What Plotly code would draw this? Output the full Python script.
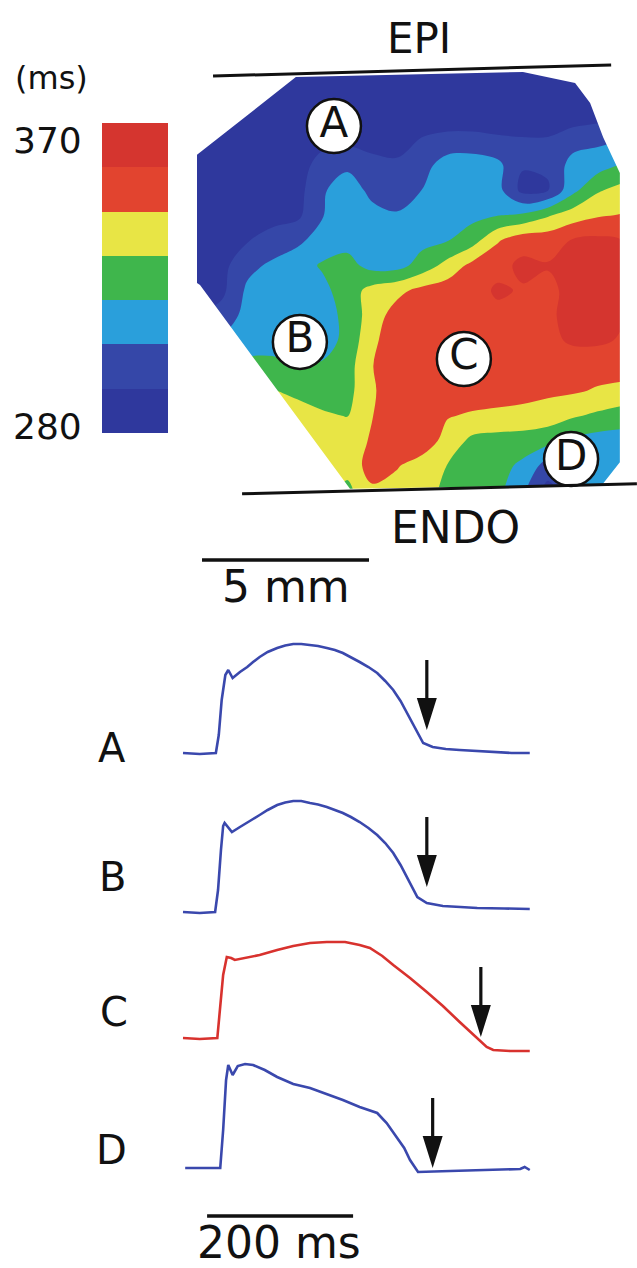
import plotly.graph_objects as go

W, H = 637, 1268
FONT = "DejaVu Sans"
INK = "#111111"

# ---------------- APD map data ----------------
apd_edges_ms = [280, 292.857, 305.714, 318.571, 331.429, 344.286, 357.143, 370]
apd_colors = ["#2f389d", "#3547a8", "#2a9fdb", "#3fb64c", "#e8e545", "#e2442f", "#d5352f"]
cbar_tick_ms = [370, 280]

grid_x_mm = [0.0, 0.75, 1.5, 2.25, 3.0, 3.75, 4.5, 5.25, 6.0, 6.75, 7.5, 8.25, 9.0, 9.75, 10.5, 11.25, 12.0, 12.75]
grid_y_mm = [0.0, 0.75, 1.5, 2.25, 3.0, 3.75, 4.5, 5.25, 6.0, 6.75, 7.5, 8.25, 9.0, 9.75, 10.5, 11.25, 12.0, 12.75]

apd_ms = [
    [285, 285, 285, 285, 285, 285, 285, 285, 285, 285, 285, 285, 285, 285, 285, 285, 285, 285],
    [285, 285, 285, 285, 285, 285, 285, 285, 285, 285, 285, 285, 285, 285, 285, 285, 285, 285],
    [285, 285, 285, 285, 285, 285, 285, 285, 285, 285, 285, 285, 285, 285, 285, 286, 288, 292],
    [285, 285, 285, 285, 286, 289, 290, 288, 288, 294, 297, 297, 295, 294, 294, 300, 303, 306],
    [285, 285, 285, 286, 287, 298, 303, 297, 295, 301, 312, 313, 309, 294, 294, 311, 313, 320],
    [285, 285, 285, 286, 288, 304, 313, 302, 299, 306, 314, 314, 310, 289, 292, 315, 330, 336],
    [285, 285, 286, 288, 290, 305, 313, 310, 307, 311, 314, 315, 318, 321, 330, 338, 343, 345],
    [285, 287, 292, 298, 303, 311, 314, 315, 316, 315, 318, 326, 343, 352, 352, 358, 360, 357],
    [286, 289, 302, 308, 313, 320, 323, 314, 314, 324, 336, 348, 353, 360, 358, 362, 362, 357],
    [287, 290, 308, 313, 314, 315, 325, 336, 341, 348, 351, 352, 359, 356, 354, 361, 362, 358],
    [292, 298, 310, 313, 313, 313, 322, 338, 350, 351, 351, 352, 354, 352, 355, 361, 362, 358],
    [305, 308, 311, 313, 313, 313, 322, 342, 351, 351, 351, 351, 351, 352, 354, 359, 359, 356],
    [320, 321, 323, 322, 319, 320, 326, 344, 351, 351, 350, 350, 350, 350, 350, 350, 350, 350],
    [334, 334, 333, 332, 329, 326, 327, 343, 351, 351, 350, 350, 349, 348, 347, 346, 343, 341],
    [336, 336, 336, 336, 336, 333, 331, 344, 351, 350, 345, 343, 342, 341, 338, 333, 329, 325],
    [337, 337, 337, 337, 337, 337, 337, 346, 351, 351, 340, 328, 326, 325, 323, 316, 313, 313],
    [337, 337, 337, 337, 337, 337, 336, 350, 345, 339, 331, 325, 323, 316, 300, 310, 313, 313],
    [336, 336, 336, 336, 336, 336, 328, 342, 340, 337, 328, 324, 322, 308, 288, 300, 310, 312],
]

# recorded region outline (mm)
outline_x_mm = [0.0, 2.96, 9.76, 11.32, 11.77, 12.16, 12.66, 12.66, 12.13, 4.58, 0.09, 0.0]
outline_y_mm = [2.69, 0.36, 0.21, 0.54, 1.14, 2.16, 3.23, 11.89, 12.57, 12.69, 6.59, 6.53]

site_names = ["A", "B", "C", "D"]
site_x_mm = [4.10, 3.08, 7.99, 11.20]
site_y_mm = [1.83, 8.29, 8.80, 11.80]

epi_x_mm = [0.48, 12.40]
epi_y_mm = [0.33, 0.0]
endo_x_mm = [1.35, 13.17]
endo_y_mm = [12.84, 12.54]
scale_mm = 5

# ---------------- action potentials ----------------
tA_ms = [0, 23, 45, 49, 53, 58, 62, 68, 78, 88, 96, 105, 116, 129, 140, 151, 162, 174, 185, 197, 208, 219, 230, 242, 254, 266, 277, 288, 298, 307, 314, 321, 329, 342, 360, 379, 400, 425, 450, 475]
vA = [0, -1, 0, 18, 53, 78, 83, 75, 81, 86, 91, 96, 101, 105, 107.5, 109, 109, 108, 107, 105, 103, 100, 96, 91, 86, 80, 72, 63, 52, 40, 30, 20, 10, 6, 4, 3, 2, 1, 0, 0]

tB_ms = [0, 23, 44, 48, 52, 55, 57, 67, 78, 88, 96, 105, 116, 129, 140, 151, 162, 174, 185, 197, 208, 219, 230, 242, 254, 266, 277, 288, 298, 307, 314, 321, 334, 356, 380, 403, 440, 475]
vB = [0, -1, 0, 22, 62, 86, 89, 80, 85, 89, 93, 97, 102, 107, 109.5, 111, 111, 109, 107.5, 105, 102, 99, 95, 90, 84, 77, 69, 59, 47, 35, 25, 15, 9, 6, 5, 4, 3.5, 3]

tC_ms = [0, 23, 47, 51, 55, 60, 66, 71, 85, 105, 129, 151, 174, 197, 222, 242, 256, 273, 288, 311, 334, 356, 379, 403, 410, 416, 425, 448, 475]
vC = [0, -1, 0, 28, 63, 81, 80, 78, 80, 83, 88, 92, 95, 96, 96, 93, 90, 82, 73, 60, 46, 32, 16, 0, -5, -9, -12, -13, -13]

tD_ms = [3, 23, 51, 55, 59, 62, 68, 75, 85, 96, 112, 129, 151, 174, 197, 219, 242, 266, 279, 293, 303, 311, 316, 322, 366, 421, 462, 468, 475]
vD = [0, 0, 0, 38, 88, 103, 93, 102, 104, 103, 98, 91, 84, 80, 74, 68, 61, 55, 45, 31, 20, 8, 2, -4, -3, -2, -1, 1, -2]

trace_names = ["A", "B", "C", "D"]
trace_t = [tA_ms, tB_ms, tC_ms, tD_ms]
trace_v = [vA, vB, vC, vD]
trace_colors = ["#3a48ad", "#3a48ad", "#d8322e", "#3a48ad"]
arrow_t_ms = [334, 334, 408, 342]
arrow_v = [23, 25, 1, 0]
scale_ms = 200

# ---------------- layout helpers (pixel placement) ----------------
def pxx(p):
    return p / W

def pxy(p):
    return 1 - p / H

K = 33.4      # px per mm
KT = 0.73     # px per ms

def discrete_scale(colors):
    n = len(colors)
    cs = []
    for i, c in enumerate(colors):
        cs.append([i / n, c])
        cs.append([(i + 1) / n, c])
    return cs

cscale = discrete_scale(apd_colors)
step = (apd_edges_ms[-1] - apd_edges_ms[0]) / (len(apd_edges_ms) - 1)

fig = go.Figure()

# map
fig.add_trace(go.Contour(
    x=grid_x_mm, y=grid_y_mm, z=apd_ms,
    xaxis="x", yaxis="y",
    colorscale=cscale, zmin=apd_edges_ms[0], zmax=apd_edges_ms[-1],
    contours=dict(start=apd_edges_ms[1], end=apd_edges_ms[-2] + 0.01, size=step, coloring="fill"),
    line=dict(width=0, smoothing=1.0),
    showscale=False, hoverinfo="skip",
))

# white frame outside the recorded region
fx0, fx1, fy0, fy1 = -0.5, 13.3, -0.25, 13.1
mask_x = [fx0, fx1, fx1, fx0, fx0] + [outline_x_mm[0]] + outline_x_mm[::-1] + [fx0]
mask_y = [fy0, fy0, fy1, fy1, fy0] + [outline_y_mm[0]] + outline_y_mm[::-1] + [fy0]
fig.add_trace(go.Scatter(
    x=mask_x, y=mask_y, xaxis="x", yaxis="y", mode="lines",
    line=dict(width=0, color="white"), fill="toself", fillcolor="white",
    hoverinfo="skip", showlegend=False,
))

# recording sites
fig.add_trace(go.Scatter(
    x=site_x_mm, y=site_y_mm, xaxis="x", yaxis="y",
    mode="markers+text", text=site_names, textposition="middle center",
    marker=dict(size=54, color="white", line=dict(color=INK, width=2.5)),
    textfont=dict(family=FONT, size=42, color=INK),
    hoverinfo="skip", showlegend=False,
))

# colour bar
fig.add_trace(go.Heatmap(
    x=[0], y=apd_edges_ms,
    z=[[(apd_edges_ms[i] + apd_edges_ms[i + 1]) / 2] for i in range(len(apd_edges_ms) - 1)],
    xaxis="x6", yaxis="y6", colorscale=cscale,
    zmin=apd_edges_ms[0], zmax=apd_edges_ms[-1], showscale=False, hoverinfo="skip",
))

# action potentials
for i in range(4):
    fig.add_trace(go.Scatter(
        x=trace_t[i], y=trace_v[i], xaxis="x2", yaxis="y%d" % (i + 2),
        mode="lines", line=dict(color=trace_colors[i], width=2.6, shape="linear"),
        hoverinfo="skip", showlegend=False,
    ))

hidden = dict(visible=False, showgrid=False, zeroline=False, fixedrange=True)

trace_base_px = [753, 912, 1038, 1168]
trace_dom_px = [(630, 770), (790, 930), (935, 1075), (1050, 1190)]

layout = dict(
    width=W, height=H, margin=dict(l=0, r=0, t=0, b=0),
    paper_bgcolor="white", plot_bgcolor="rgba(0,0,0,0)", showlegend=False,
    xaxis=dict(domain=[0, 1], range=[-197 / K, 440 / K], anchor="y", **hidden),
    yaxis=dict(domain=[pxy(620), 1], range=[555 / K, -65 / K], anchor="x", **hidden),
    xaxis2=dict(domain=[0, 1], range=[-183 / KT, 454 / KT], anchor="y2", **hidden),
    xaxis6=dict(domain=[pxx(102), pxx(168)], range=[-0.5, 0.5], anchor="y6", **hidden),
    yaxis6=dict(domain=[pxy(433), pxy(123)], range=[apd_edges_ms[0], apd_edges_ms[-1]], anchor="x6", **hidden),
)
for i in range(4):
    top, bot = trace_dom_px[i]
    base = trace_base_px[i]
    layout["yaxis%d" % (i + 2)] = dict(domain=[pxy(bot), pxy(top)], range=[-(bot - base), base - top],
                                      anchor="x2", **hidden)
fig.update_layout(**layout)

shapes = []
shapes.append(dict(type="line", xref="x", yref="y", x0=epi_x_mm[0], y0=epi_y_mm[0], x1=epi_x_mm[1], y1=epi_y_mm[1],
                   line=dict(color=INK, width=3)))
shapes.append(dict(type="line", xref="x", yref="y", x0=endo_x_mm[0], y0=endo_y_mm[0], x1=endo_x_mm[1], y1=endo_y_mm[1],
                   line=dict(color=INK, width=3)))
bar_y_mm = (560 - 65) / K
shapes.append(dict(type="line", xref="x", yref="y", x0=0.15, y0=bar_y_mm, x1=0.15 + scale_mm, y1=bar_y_mm,
                   line=dict(color=INK, width=3.5)))
shapes.append(dict(type="line", xref="x2", yref="paper", x0=33, y0=pxy(1216), x1=33 + scale_ms, y1=pxy(1216),
                   line=dict(color=INK, width=3.5)))
arrow_path = "M0,0L-10,32L-1.6,32L-1.6,70L1.6,70L1.6,32L10,32Z"
for i in range(4):
    shapes.append(dict(type="path", xref="x2", yref="y%d" % (i + 2),
                       xsizemode="pixel", ysizemode="pixel",
                       xanchor=arrow_t_ms[i], yanchor=arrow_v[i], path=arrow_path,
                       fillcolor=INK, line=dict(width=0)))
fig.update_layout(shapes=shapes)

ann = []
def txt(s, x, y, size):
    ann.append(dict(text=s, x=pxx(x), y=pxy(y), xref="paper", yref="paper", showarrow=False,
                    xanchor="center", yanchor="middle", font=dict(family=FONT, size=size, color=INK)))

txt("(ms)", 52, 78, 32)
txt("EPI", 419, 38, 42)
txt("ENDO", 455, 527, 44)
txt("5 mm", 286, 586, 44)
txt("200 ms", 279, 1242, 44)
label_pos = [(112, 748), (112, 877), (114, 1012), (111, 1150)]
for i in range(4):
    txt(trace_names[i], label_pos[i][0], label_pos[i][1], 40)
tick_shift = [-18, 6]
for v, s in zip(cbar_tick_ms, tick_shift):
    ann.append(dict(text=str(v), x=pxx(47), y=v, xref="paper", yref="y6", yshift=s, showarrow=False,
                    xanchor="center", yanchor="middle", font=dict(family=FONT, size=36, color=INK)))
fig.update_layout(annotations=ann)

fig.write_html("out.html")
